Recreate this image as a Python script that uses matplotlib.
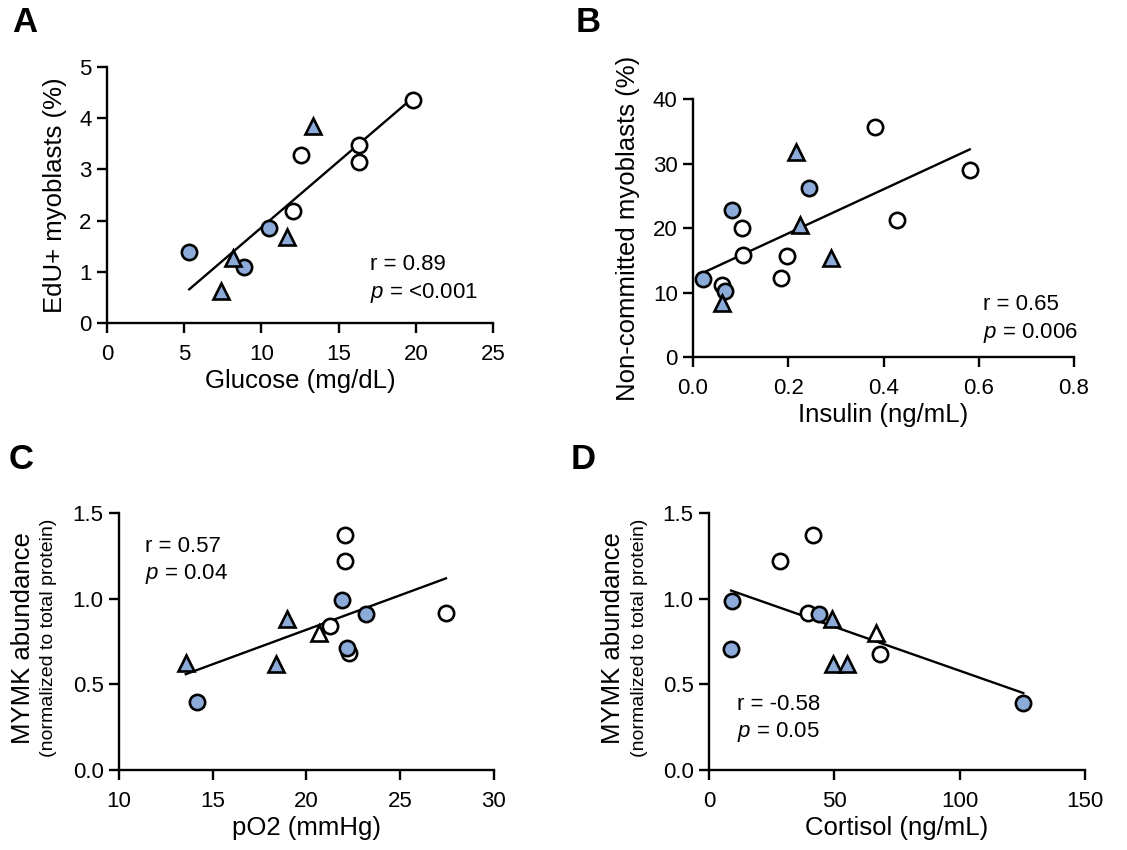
import numpy as np
import matplotlib
matplotlib.use("Agg")
import matplotlib.pyplot as plt

plt.rcParams["font.family"] = ["Liberation Sans", "DejaVu Sans"]
plt.rcParams["mathtext.fontset"] = "custom"
plt.rcParams["mathtext.rm"] = "Liberation Sans"
plt.rcParams["mathtext.it"] = "Liberation Sans:italic"

BLUE = "#8CABD9"

# ---- Panel A: glucose vs EdU+ myoblasts ----
a_circ_blue_x = [5.33, 10.52, 8.88]
a_circ_blue_y = [1.38, 1.85, 1.10]
a_tri_blue_x = [13.37, 11.64, 8.19, 7.37]
a_tri_blue_y = [3.84, 1.67, 1.27, 0.62]
a_circ_open_x = [19.85, 16.35, 16.35, 12.59, 12.03]
a_circ_open_y = [4.35, 3.47, 3.15, 3.28, 2.19]

# ---- Panel B: insulin vs non-committed myoblasts ----
b_circ_blue_x = [0.021, 0.067, 0.081, 0.243]
b_circ_blue_y = [12.1, 10.3, 22.8, 26.2]
b_tri_blue_x = [0.060, 0.217, 0.225, 0.289]
b_tri_blue_y = [8.4, 31.8, 20.5, 15.3]
b_circ_open_x = [0.060, 0.102, 0.104, 0.198, 0.184, 0.382, 0.429, 0.581]
b_circ_open_y = [11.2, 20.0, 15.8, 15.7, 12.2, 35.7, 21.2, 29.0]

# ---- Panel C: pO2 vs MYMK abundance ----
c_circ_blue_x = [14.18, 21.92, 23.17, 22.14]
c_circ_blue_y = [0.394, 0.991, 0.909, 0.713]
c_tri_blue_x = [13.56, 18.36, 18.97]
c_tri_blue_y = [0.625, 0.62, 0.88]
c_tri_open_x = [20.66]
c_tri_open_y = [0.80]
c_circ_open_x = [21.25, 22.05, 22.05, 22.28, 27.44]
c_circ_open_y = [0.84, 1.374, 1.222, 0.68, 0.919]

# ---- Panel D: cortisol vs MYMK abundance ----
d_circ_blue_x = [9.3, 8.8, 43.8, 125.4]
d_circ_blue_y = [0.989, 0.709, 0.909, 0.392]
d_tri_blue_x = [49.2, 49.4, 55.0]
d_tri_blue_y = [0.88, 0.62, 0.62]
d_tri_open_x = [66.7]
d_tri_open_y = [0.80]
d_circ_open_x = [28.5, 41.5, 39.5, 68.1]
d_circ_open_y = [1.222, 1.374, 0.917, 0.676]

fig = plt.figure(figsize=(11.27, 8.5), dpi=100)


def style_axes(ax, xlim, ylim, xticks, yticks, xticklabels=None, yticklabels=None):
    ax.set_xlim(*xlim)
    ax.set_ylim(*ylim)
    ax.set_xticks(xticks)
    ax.set_yticks(yticks)
    if xticklabels is not None:
        ax.set_xticklabels(xticklabels)
    if yticklabels is not None:
        ax.set_yticklabels(yticklabels)
    for side in ("top", "right"):
        ax.spines[side].set_visible(False)
    for side in ("left", "bottom"):
        ax.spines[side].set_linewidth(1.7)
    ax.tick_params(direction="out", length=7, width=1.7, labelsize=16)
    ax.tick_params(axis="x", pad=8)
    ax.tick_params(axis="y", pad=4)
    ax.patch.set_alpha(0)


def draw_points(ax, groups):
    for xs, ys, marker, face in groups:
        ax.plot(xs, ys, linestyle="none", marker=marker, markersize=11,
                markerfacecolor=face, markeredgecolor="black", markeredgewidth=1.9, zorder=3)


def fit_line(ax, xs, ys):
    xs = np.asarray(xs, float)
    ys = np.asarray(ys, float)
    k, b = np.polyfit(xs, ys, 1)
    xx = np.array([xs.min(), xs.max()])
    ax.plot(xx, k * xx + b, color="black", linewidth=1.7, zorder=2)


def stats_text(ax, x, y1, y2, r_txt, p_txt):
    ax.text(x, y1, r_txt, transform=ax.transAxes, fontsize=16, va="center", ha="left")
    ax.text(x, y2, r"$\it{p}$" + " = " + p_txt, transform=ax.transAxes, fontsize=16,
            va="center", ha="left")


# Panel A
axA = fig.add_axes([0.0949, 0.62, 0.3425, 0.3012])
gA = [(a_circ_open_x, a_circ_open_y, "o", "white"),
      (a_circ_blue_x, a_circ_blue_y, "o", BLUE),
      (a_tri_blue_x, a_tri_blue_y, "^", BLUE)]
fit_line(axA, a_circ_open_x + a_circ_blue_x + a_tri_blue_x,
         a_circ_open_y + a_circ_blue_y + a_tri_blue_y)
draw_points(axA, gA)
style_axes(axA, (0, 25), (0, 5), [0, 5, 10, 15, 20, 25], [0, 1, 2, 3, 4, 5])
axA.set_xlabel("Glucose (mg/dL)", fontsize=18.5, labelpad=3)
axA.set_ylabel("EdU+ myoblasts (%)", fontsize=18.5, labelpad=9)
stats_text(axA, 0.681, 0.227, 0.117, "r = 0.89", "<0.001")

# Panel B
axB = fig.add_axes([0.6149, 0.58, 0.3381, 0.3035])
gB = [(b_circ_open_x, b_circ_open_y, "o", "white"),
      (b_circ_blue_x, b_circ_blue_y, "o", BLUE),
      (b_tri_blue_x, b_tri_blue_y, "^", BLUE)]
fit_line(axB, b_circ_open_x + b_circ_blue_x + b_tri_blue_x,
         b_circ_open_y + b_circ_blue_y + b_tri_blue_y)
draw_points(axB, gB)
style_axes(axB, (0, 0.8), (0, 40), [0, 0.2, 0.4, 0.6, 0.8], [0, 10, 20, 30, 40],
           xticklabels=["0.0", "0.2", "0.4", "0.6", "0.8"])
axB.set_xlabel("Insulin (ng/mL)", fontsize=18.5, labelpad=3)
axB.set_ylabel("Non-committed myoblasts (%)", fontsize=18.5, labelpad=9)
stats_text(axB, 0.761, 0.2016, 0.093, "r = 0.65", "0.006")

# Panel C
axC = fig.add_axes([0.1056, 0.0941, 0.3327, 0.3024])
gC = [(c_circ_open_x, c_circ_open_y, "o", "white"),
      (c_tri_open_x, c_tri_open_y, "^", "white"),
      (c_circ_blue_x, c_circ_blue_y, "o", BLUE),
      (c_tri_blue_x, c_tri_blue_y, "^", BLUE)]
fit_line(axC, c_circ_open_x + c_tri_open_x + c_circ_blue_x + c_tri_blue_x,
         c_circ_open_y + c_tri_open_y + c_circ_blue_y + c_tri_blue_y)
draw_points(axC, gC)
style_axes(axC, (10, 30), (0, 1.5), [10, 15, 20, 25, 30], [0, 0.5, 1.0, 1.5],
           yticklabels=["0.0", "0.5", "1.0", "1.5"])
axC.set_xlabel("pO2 (mmHg)", fontsize=18.5, labelpad=3)
stats_text(axC, 0.069, 0.869, 0.763, "r = 0.57", "0.04")

# Panel D
axD = fig.add_axes([0.6291, 0.0941, 0.3336, 0.3024])
gD = [(d_circ_open_x, d_circ_open_y, "o", "white"),
      (d_tri_open_x, d_tri_open_y, "^", "white"),
      (d_circ_blue_x, d_circ_blue_y, "o", BLUE),
      (d_tri_blue_x, d_tri_blue_y, "^", BLUE)]
fit_line(axD, d_circ_open_x + d_tri_open_x + d_circ_blue_x + d_tri_blue_x,
         d_circ_open_y + d_tri_open_y + d_circ_blue_y + d_tri_blue_y)
draw_points(axD, gD)
style_axes(axD, (0, 150), (0, 1.5), [0, 50, 100, 150], [0, 0.5, 1.0, 1.5],
           yticklabels=["0.0", "0.5", "1.0", "1.5"])
axD.set_xlabel("Cortisol (ng/mL)", fontsize=18.5, labelpad=3)
stats_text(axD, 0.074, 0.256, 0.149, "r = -0.58", "0.05")

# Two-line y labels for the MYMK panels
for px_main, px_sub in ((23, 49), (613, 639)):
    fig.text(px_main / 1127, 1 - 638 / 850, "MYMK abundance", rotation=90,
             fontsize=18.5, ha="center", va="center")
    fig.text(px_sub / 1127, 1 - 638 / 850, "(normalized to total protein)", rotation=90,
             fontsize=14, ha="center", va="center")

# Panel letters
for letter, px, py in (("A", 25, 22), ("B", 588, 22), ("C", 21, 459), ("D", 583, 459)):
    fig.text(px / 1127, 1 - py / 850, letter, fontsize=25, fontweight="bold",
             ha="center", va="center")

fig.savefig("out.png", dpi=100)
